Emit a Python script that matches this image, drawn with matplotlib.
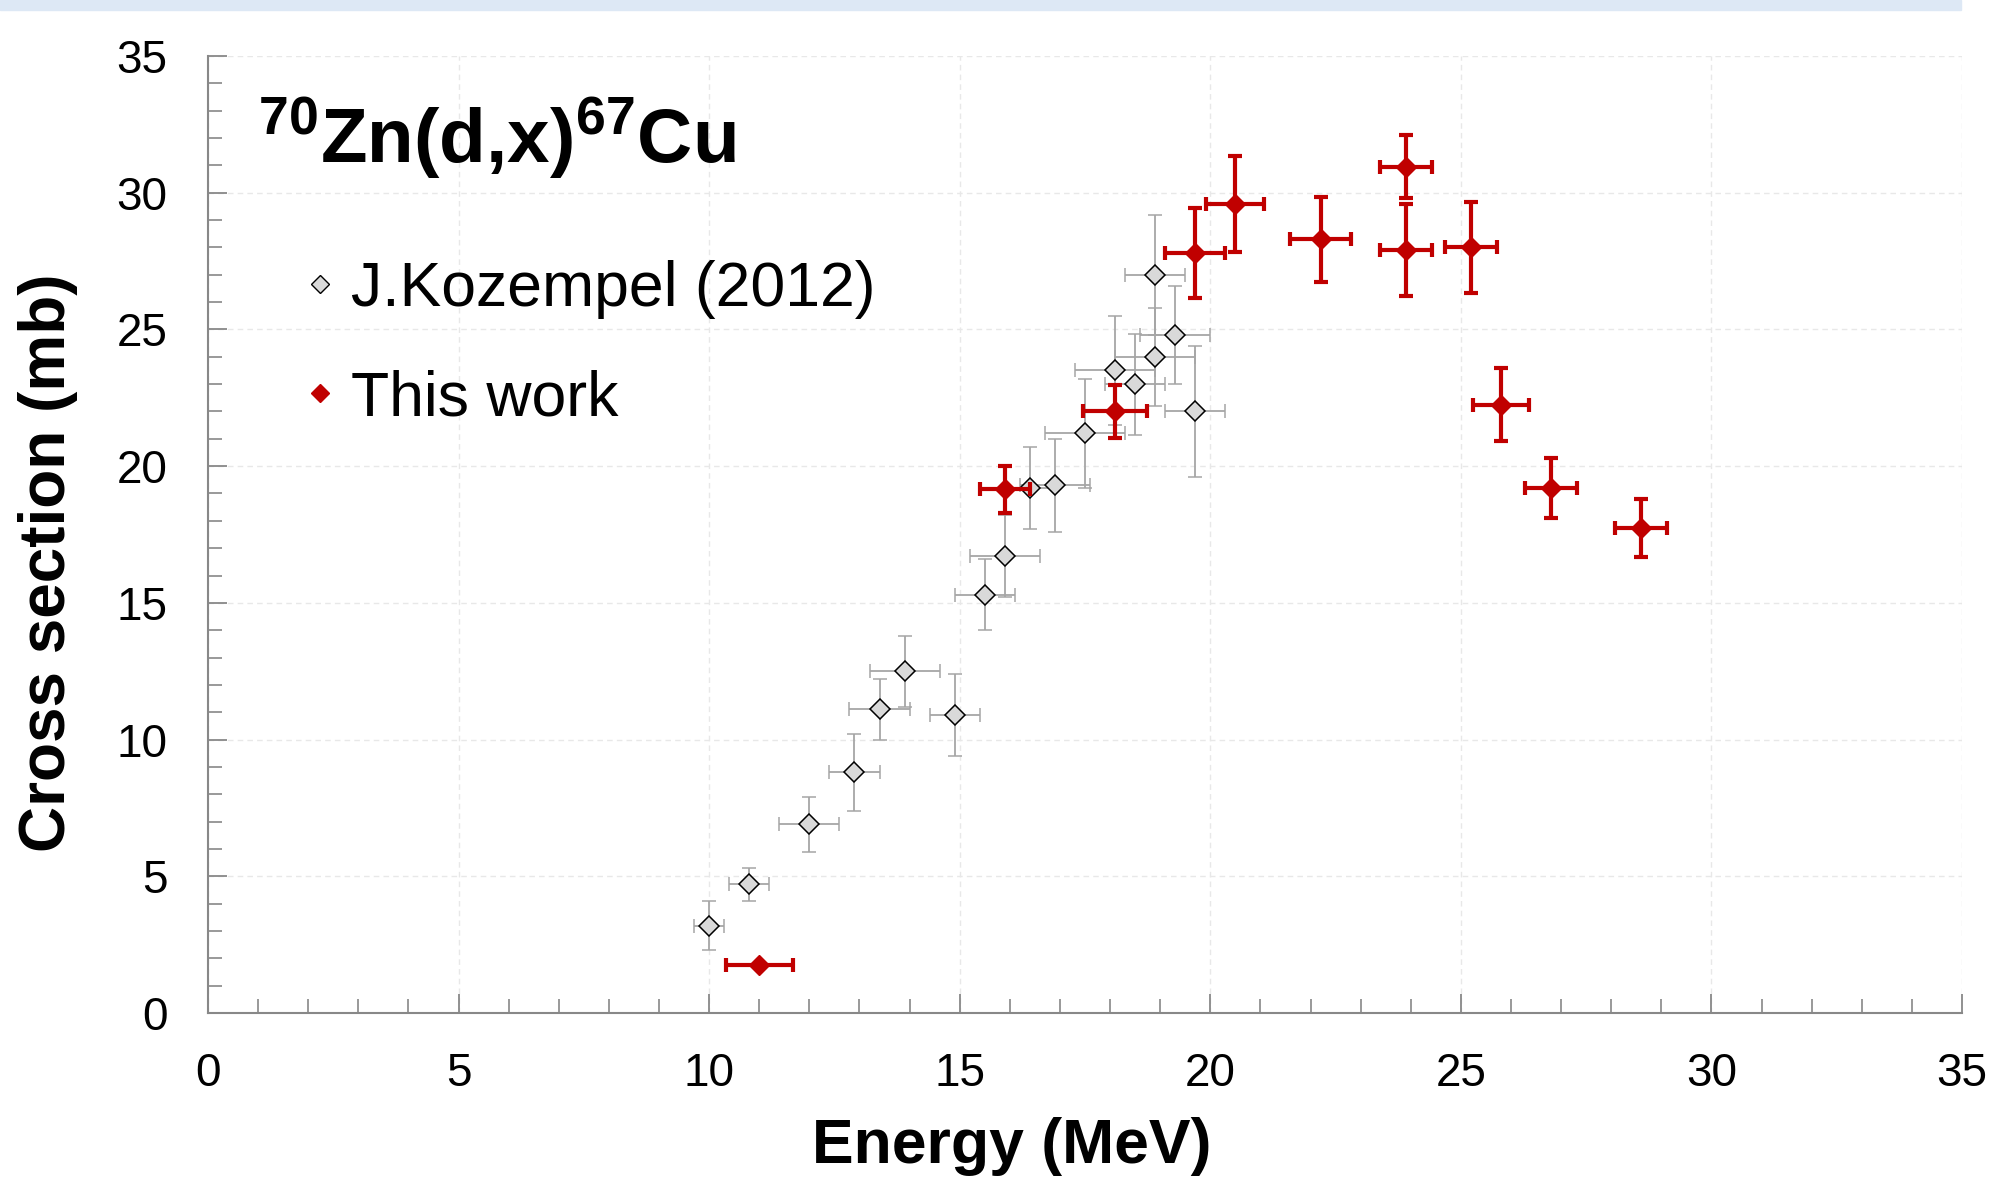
import matplotlib
matplotlib.use("Agg")
import matplotlib.pyplot as plt
from matplotlib.lines import Line2D
from matplotlib.patches import Rectangle
from matplotlib.ticker import MultipleLocator

plt.rcParams['font.family'] = ['Liberation Sans', 'DejaVu Sans']
plt.rcParams['mathtext.fontset'] = 'custom'
plt.rcParams['mathtext.bf'] = 'Liberation Sans:bold'
plt.rcParams['mathtext.rm'] = 'Liberation Sans'

# J.Kozempel (2012)
koz_e = [10.0, 10.8, 12.0, 12.9, 13.4, 13.9, 14.9, 15.5, 15.9, 16.4, 16.9, 17.5,
         18.1, 18.5, 18.9, 18.9, 19.3, 19.7]
koz_xs = [3.2, 4.7, 6.9, 8.8, 11.1, 12.5, 10.9, 15.3, 16.7, 19.2, 19.3, 21.2,
          23.5, 23.0, 27.0, 24.0, 24.8, 22.0]
koz_de = [0.3, 0.4, 0.6, 0.5, 0.6, 0.7, 0.5, 0.6, 0.7, 0.5, 0.7, 0.8,
          0.8, 0.6, 0.6, 0.8, 0.7, 0.6]
koz_dxs = [0.9, 0.6, 1.0, 1.4, 1.1, 1.3, 1.5, 1.3, 1.5, 1.5, 1.7, 2.0,
           2.0, 1.85, 2.2, 1.8, 1.8, 2.4]

# This work
tw_e = [11.0, 15.9, 18.1, 19.7, 20.5, 22.2, 23.9, 23.9, 25.2, 25.8, 26.8, 28.6]
tw_xs = [1.75, 19.15, 22.0, 27.8, 29.6, 28.3, 30.95, 27.9, 28.0, 22.25, 19.2, 17.75]
tw_de = [0.67, 0.5, 0.63, 0.6, 0.58, 0.6, 0.52, 0.52, 0.52, 0.56, 0.52, 0.52]
tw_dxs = [0.0, 0.87, 0.96, 1.64, 1.76, 1.56, 1.16, 1.67, 1.66, 1.34, 1.08, 1.06]

x_ticks = [0, 5, 10, 15, 20, 25, 30, 35]
y_ticks = [0, 5, 10, 15, 20, 25, 30, 35]

fig = plt.figure(figsize=(19.9, 11.79), dpi=100)
fig.patches.append(Rectangle((0, 1 - 10 / 1179), 1961 / 1990, 10 / 1179,
                             transform=fig.transFigure, color='#dde8f5', zorder=0))
ax = fig.add_axes([208 / 1990, 1 - 1013 / 1179, 1754 / 1990, 957 / 1179])

red = '#c00000'
ax.errorbar(koz_e, koz_xs, xerr=koz_de, yerr=koz_dxs, fmt='D', ms=10.5,
            mfc='#d9d9d9', mec='black', mew=1.1, ecolor='#a6a6a6', elinewidth=1.3,
            capsize=5, capthick=1.3, zorder=3)
ax.errorbar(tw_e, tw_xs, xerr=tw_de, yerr=tw_dxs,
            fmt='D', ms=10, mfc=red, mec=red, ecolor=red, elinewidth=3,
            capsize=5, capthick=3, zorder=4)

ax.set_xlim(0, 35)
ax.set_ylim(0, 35)
ax.set_xticks(x_ticks)
ax.set_yticks(y_ticks)
ax.xaxis.set_minor_locator(MultipleLocator(1))
ax.yaxis.set_minor_locator(MultipleLocator(1))
ax.tick_params(axis='both', which='major', direction='in', length=14, width=1.3,
               color='#888888', labelsize=33)
ax.tick_params(axis='both', which='minor', direction='in', length=10, width=1.2,
               color='#888888')
ax.tick_params(axis='x', which='major', pad=28)
ax.tick_params(axis='y', which='major', pad=29)
for s in ['top', 'right']:
    ax.spines[s].set_visible(False)
for s in ['left', 'bottom']:
    ax.spines[s].set_color('#888888')
    ax.spines[s].set_linewidth(1.5)
ax.grid(True, which='major', color='#e8e8e8', linestyle=(0, (4, 3)), linewidth=1.0)
ax.set_axisbelow(True)

ax.set_xlabel('Energy (MeV)', fontsize=45, fontweight='bold')
ax.xaxis.set_label_coords(0.458, -0.139)
ax.xaxis.label.set_va('center')
ax.set_ylabel('Cross section (mb)', fontsize=46, fontweight='bold')
ax.yaxis.set_label_coords(-0.091, 0.471)
ax.yaxis.label.set_va('center')

ax.text(0.0285, 0.889, r'$\mathbf{^{70}Zn(d{,}x)^{67}Cu}$', transform=ax.transAxes,
        fontsize=55, va='baseline', ha='left')

handles = [Line2D([], [], ls='none', marker='D', ms=9.5, mfc='#d9d9d9', mec='black', mew=1.0),
           Line2D([], [], ls='none', marker='D', ms=9.5, mfc=red, mec=red)]
ax.legend(handles, ['J.Kozempel (2012)', 'This work'], loc='upper left',
          bbox_to_anchor=(0.053, 0.7865), frameon=False, fontsize=45,
          handlelength=0.6, handletextpad=0.2, labelspacing=0.8,
          borderpad=0, borderaxespad=0)

fig.savefig('out.png', dpi=100)
